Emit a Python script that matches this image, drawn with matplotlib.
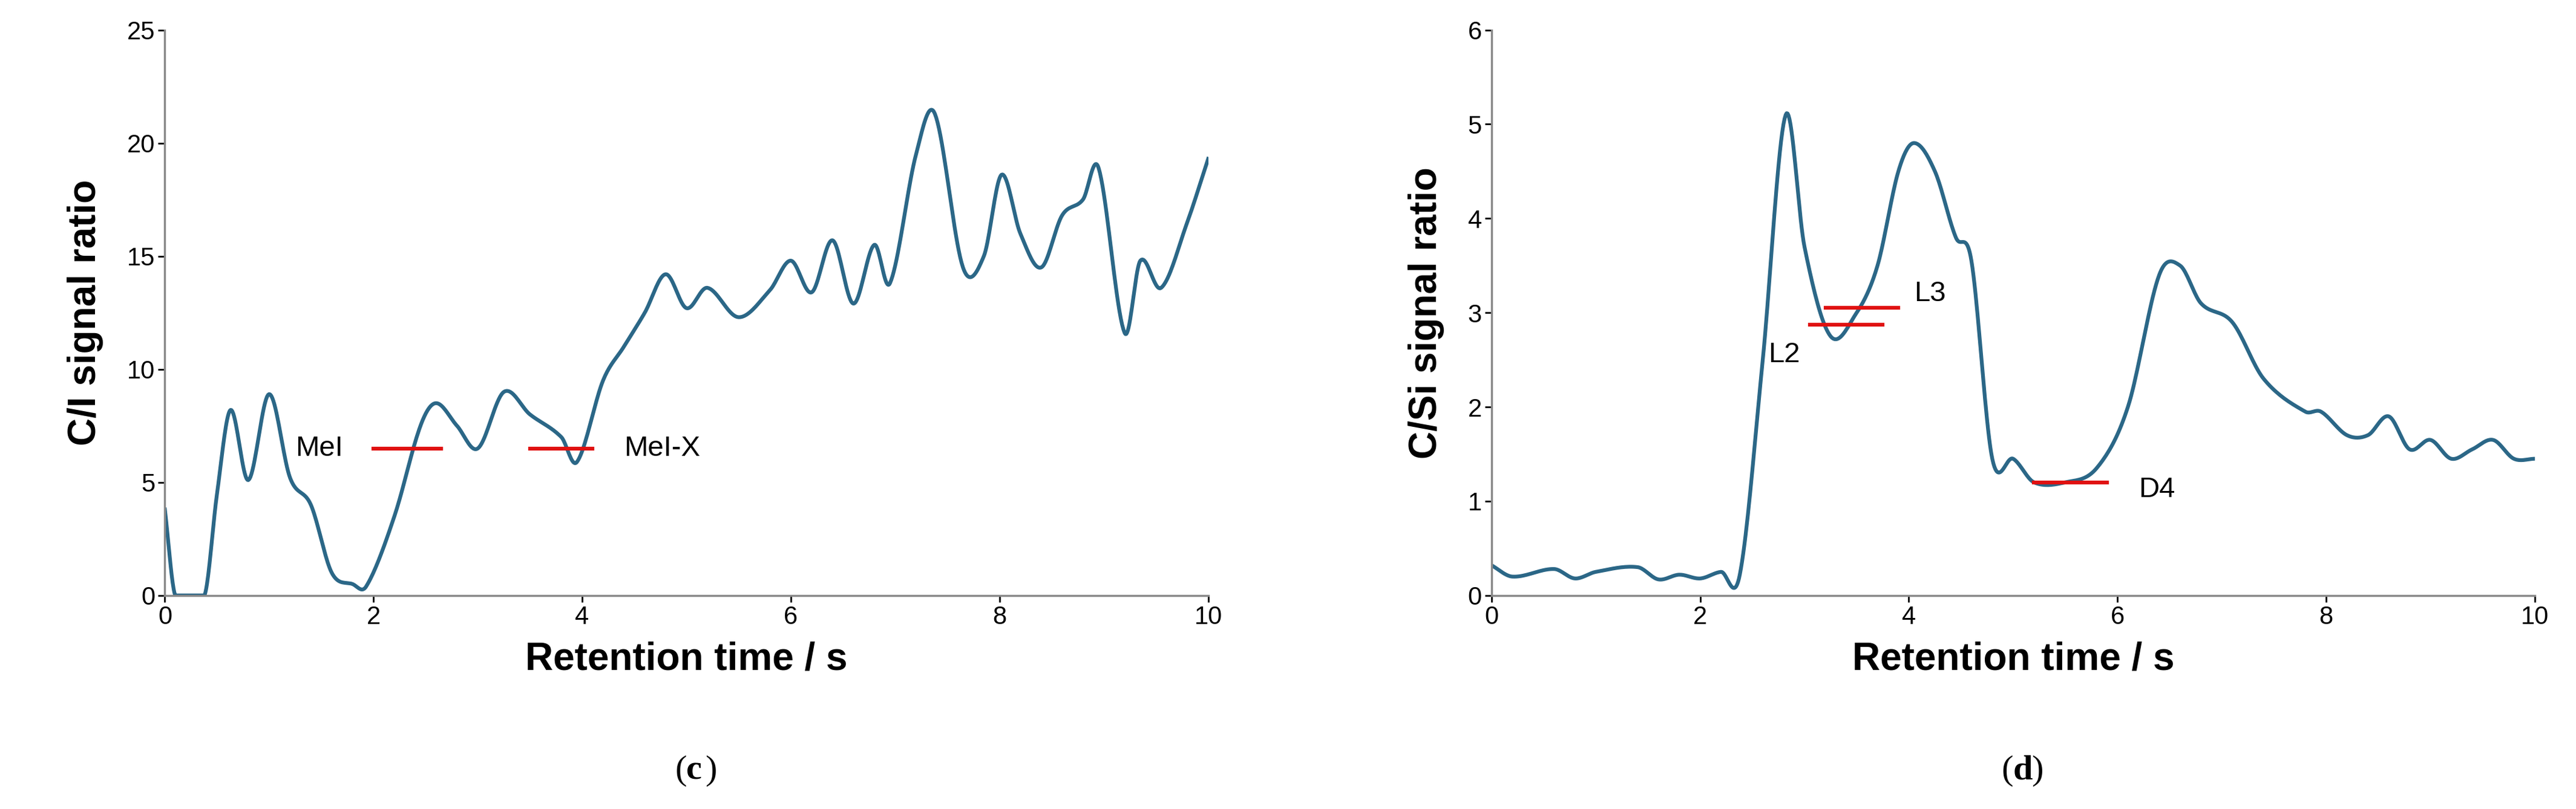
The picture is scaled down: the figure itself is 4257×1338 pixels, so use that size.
import matplotlib
matplotlib.use("Agg")
import matplotlib.pyplot as plt
import numpy as np

plt.rcParams['font.family'] = ['Liberation Sans', 'DejaVu Sans']

c_x = [0, 0.1, 0.38, 0.5, 0.63, 0.8, 1.0, 1.2, 1.4, 1.6, 1.8, 1.93, 2.2, 2.45, 2.6, 2.8, 3.0, 3.25, 3.5, 3.8, 3.95,
       4.2, 4.4, 4.6, 4.8, 5.0, 5.2, 5.5, 5.8, 6.0, 6.2, 6.4, 6.6, 6.8, 6.95, 7.2, 7.38, 7.65, 7.85, 8.02, 8.2,
       8.4, 8.6, 8.8, 8.95, 9.2, 9.35, 9.55, 9.8, 10.0]
c_y = [3.8, 0, 0, 4.5, 8.2, 5.1, 8.9, 5.2, 4.0, 1.0, 0.5, 0.4, 3.5, 7.5, 8.5, 7.5, 6.5, 9.0, 8.0, 7.0, 5.9,
       9.5, 11.0, 12.5, 14.2, 12.7, 13.6, 12.3, 13.5, 14.8, 13.4, 15.7, 12.9, 15.5, 13.8, 19.5, 21.3, 14.5, 15.0, 18.6, 16.0,
       14.5, 16.8, 17.5, 18.9, 11.6, 14.8, 13.6, 16.5, 19.3]

d_x = [0, 0.2, 0.6, 0.8, 1.0, 1.4, 1.6, 1.8, 2.0, 2.2, 2.38, 2.6, 2.82, 3.0, 3.25, 3.5, 3.7, 3.9, 4.05, 4.25,
       4.45, 4.6, 4.8, 5.0, 5.2, 5.5, 5.8, 6.1, 6.4, 6.6, 6.8, 7.1, 7.4, 7.8, 7.95, 8.2, 8.4, 8.6, 8.8, 9.0,
       9.2, 9.4, 9.6, 9.8, 10.0]
d_y = [0.32, 0.2, 0.28, 0.18, 0.25, 0.3, 0.17, 0.22, 0.18, 0.25, 0.22, 2.5, 5.1, 3.7, 2.75, 3.0, 3.5, 4.5, 4.8, 4.5,
       3.8, 3.55, 1.45, 1.45, 1.2, 1.2, 1.35, 2.0, 3.4, 3.5, 3.1, 2.9, 2.3, 1.95, 1.95, 1.7, 1.7, 1.9, 1.55, 1.65,
       1.45, 1.55, 1.65, 1.45, 1.45]

c_marks = [("MeI", 2.0, 2.65, 6.5), ("MeI-X", 3.5, 4.1, 6.5)]
d_marks = [("L2", 3.05, 3.75, 2.87), ("L3", 3.2, 3.9, 3.05), ("D4", 5.2, 5.9, 1.2)]

def smooth(x, y, n=20):
    x = np.asarray(x, float); y = np.asarray(y, float)
    X, Y = [], []
    for i in range(len(x) - 1):
        x0, x1 = x[i], x[i+1]
        m0 = (y[i+1]-y[i-1])/(x[i+1]-x[i-1]) if 0 < i else (y[1]-y[0])/(x[1]-x[0])
        m1 = (y[i+2]-y[i])/(x[i+2]-x[i]) if i+2 < len(x) else (y[-1]-y[-2])/(x[-1]-x[-2])
        h = x1 - x0
        t = np.linspace(0, 1, n, endpoint=False)
        h00 = 2*t**3-3*t**2+1; h10 = t**3-2*t**2+t; h01 = -2*t**3+3*t**2; h11 = t**3-t**2
        X.append(x0 + t*h); Y.append(h00*y[i]+h10*h*m0+h01*y[i+1]+h11*h*m1)
    X.append([x[-1]]); Y.append([y[-1]])
    return np.concatenate(X), np.concatenate(Y)

fig = plt.figure(figsize=(42.57, 13.38), dpi=100)
ax1 = fig.add_axes([0.064, 0.264, 0.405, 0.699])
ax2 = fig.add_axes([0.579, 0.264, 0.405, 0.699])
col = '#2b6787'

for ax, x, y, ylim, yt, lab, marks, tag in [
        (ax1, c_x, c_y, 25, np.arange(0, 26, 5), 'C/I signal ratio', c_marks, 'c'),
        (ax2, d_x, d_y, 6, np.arange(0, 7, 1), 'C/Si signal ratio', d_marks, 'd')]:
    sx, sy = smooth(x, y)
    if ax is ax1:
        sy = np.clip(sy, 0, None)
    ax.plot(sx, sy, color=col, lw=4.5)
    for name, a, b, v in marks:
        ax.plot([a, b], [v, v], color='#e01010', lw=4.5)
    ax.set_xlim(0, 10); ax.set_ylim(0, ylim)
    ax.set_xticks([0, 2, 4, 6, 8, 10]); ax.set_yticks(yt)
    ax.tick_params(labelsize=30, length=8, width=2, direction='out')
    for s in ['top', 'right']:
        ax.spines[s].set_visible(False)
    for s in ['left', 'bottom']:
        ax.spines[s].set_color('#888888'); ax.spines[s].set_linewidth(2.5)
    ax.set_xlabel('Retention time / s', fontsize=46, fontweight='bold', labelpad=14)
    ax.set_ylabel(lab, fontsize=46, fontweight='bold', labelpad=28)
    ax.text(0.5, -0.31, '(', transform=ax.transAxes, ha='right', va='center', fontsize=42,
            family=['Liberation Serif', 'DejaVu Serif'])
    ax.text(0.5, -0.31, tag, transform=ax.transAxes, ha='left', va='center', fontsize=42,
            fontweight='bold', family=['Liberation Serif', 'DejaVu Serif'])
    ax.annotate(')', xy=(0.5, -0.31), xycoords=ax.transAxes, xytext=(22, 0), textcoords='offset points',
                ha='left', va='center', fontsize=42, family=['Liberation Serif', 'DejaVu Serif'])

ax1.text(1.25, 6.5, 'MeI', fontsize=34, va='center')
ax1.text(4.4, 6.5, 'MeI-X', fontsize=34, va='center')
ax2.text(2.65, 2.55, 'L2', fontsize=34, va='center')
ax2.text(4.05, 3.2, 'L3', fontsize=34, va='center')
ax2.text(6.2, 1.12, 'D4', fontsize=34, va='center')

fig.savefig('out.png', dpi=100, facecolor='white')
